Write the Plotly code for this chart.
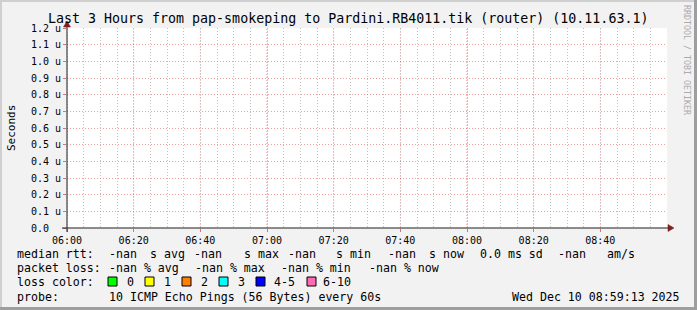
import plotly.graph_objects as go

# ---------------- data ----------------
title_text = "Last 3 Hours from pap-smokeping to Pardini.RB4011.tik (router) (10.11.63.1)"
y_title = "Seconds"
watermark = "RRDTOOL / TOBI OETIKER"

time_start = "2025-12-10 06:00:00"
time_end = "2025-12-10 09:00:00"
x_tick_values = ["2025-12-10 06:00", "2025-12-10 06:20", "2025-12-10 06:40",
                 "2025-12-10 07:00", "2025-12-10 07:20", "2025-12-10 07:40",
                 "2025-12-10 08:00", "2025-12-10 08:20", "2025-12-10 08:40"]
x_tick_labels = ["06:00", "06:20", "06:40", "07:00", "07:20", "07:40",
                 "08:00", "08:20", "08:40"]
hour_marks = ["2025-12-10 06:00", "2025-12-10 07:00", "2025-12-10 08:00"]

y_tick_values = [0.0, 0.1e-6, 0.2e-6, 0.3e-6, 0.4e-6, 0.5e-6, 0.6e-6,
                 0.7e-6, 0.8e-6, 0.9e-6, 1.0e-6, 1.1e-6, 1.2e-6]
y_tick_labels = ["0.0", "0.1 u", "0.2 u", "0.3 u", "0.4 u", "0.5 u", "0.6 u",
                 "0.7 u", "0.8 u", "0.9 u", "1.0 u", "1.1 u", "1.2 u"]

# median RTT samples: every value is missing (-nan) in the reference
sample_times = ["2025-12-10 06:00", "2025-12-10 09:00"]
median_rtt = [None, None]

rtt_line = ["median rtt:", "-nan", "s avg", "-nan", "s max", "-nan", "s min",
            "-nan", "s now", "0.0 ms sd", "-nan", "am/s"]
loss_line = ["packet loss:", "-nan % avg", "-nan % max", "-nan % min", "-nan % now"]
loss_caption = "loss color:"
loss_labels = ["0", "1", "2", "3", "4-5", "6-10"]
loss_colors = ["#00ff00", "#ffff00", "#ff8000", "#00ffff", "#0000ff", "#ff69b4"]
probe_line = ["probe:", "10 ICMP Echo Pings (56 Bytes) every 60s"]
stamp = "Wed Dec 10 08:59:13 2025"

# ---------------- layout (pixels) ----------------
W, H = 697, 310
PL, PR, PT, PB = 67, 667, 28, 228

rtt_x = [16, 108, 149, 193, 243, 287, 335, 387, 428, 479, 557, 606]
loss_x = [16, 108, 194, 280, 368]
box_x = [108, 145, 182, 219, 256, 307]
box_label_x = [126, 163, 200, 237, 273, 322]
probe_x = [16, 108]
row_y = [254, 268, 282, 296.5]

MONO = "DejaVu Sans Mono"
BG = "#f2f2f2"
DOTS = "1px,2px"
MGRID = "rgba(222,79,79,0.55)"
MGRID_SOFT = "rgba(222,79,79,0.40)"
MGRID_H = "rgba(222,79,79,0.75)"
GRID = "rgba(143,143,143,0.55)"


def px(x):
    return (x - PL) / (PR - PL)


def py(y):
    return (PB - y) / (PB - PT)


fig = go.Figure()
fig.add_trace(go.Scatter(x=sample_times, y=median_rtt, mode="lines",
                         line=dict(color="#00ff00", width=1), showlegend=False,
                         hoverinfo="skip"))

annotations = []


def text(x, y, s, size=11.6, xanchor="left", yref="paper", color="#000000",
         angle=0, xref="paper"):
    annotations.append(dict(x=x, y=y, xref=xref, yref=yref, text=s,
                            showarrow=False, xanchor=xanchor, yanchor="middle",
                            textangle=angle, borderpad=0,
                            font=dict(family=MONO, size=size, color=color)))


# title
text(px(348), py(18.5), title_text, size=13.3, xanchor="center")
# y axis title
text(px(11), py(128), y_title, size=11, xanchor="center", angle=-90)
# watermark
text(px(687), py(60), watermark, size=8.3, xanchor="center", angle=90,
     color="#ababab")
# y tick labels
for v, lab in zip(y_tick_values, y_tick_labels):
    text(px(30), v, lab, size=10, yref="y")
# legend rows
for s, x in zip(rtt_line, rtt_x):
    text(px(x), py(row_y[0]), s)
for s, x in zip(loss_line, loss_x):
    text(px(x), py(row_y[1]), s)
text(px(16), py(row_y[2]), loss_caption)
for s, x in zip(loss_labels, box_label_x):
    text(px(x), py(row_y[2]), s)
for s, x in zip(probe_line, probe_x):
    text(px(x), py(row_y[3]), s)
text(px(681), py(row_y[3]), stamp, xanchor="right")

shapes = []
# frame shading
shapes.append(dict(type="rect", xref="paper", yref="paper", x0=px(0), x1=px(697),
                   y0=py(0), y1=py(2), fillcolor="#cfcfcf", line=dict(width=0), layer="below"))
shapes.append(dict(type="rect", xref="paper", yref="paper", x0=px(0), x1=px(2),
                   y0=py(0), y1=py(310), fillcolor="#cfcfcf", line=dict(width=0), layer="below"))
shapes.append(dict(type="rect", xref="paper", yref="paper", x0=px(694), x1=px(697),
                   y0=py(0), y1=py(310), fillcolor="#9e9e9e", line=dict(width=0)))
shapes.append(dict(type="rect", xref="paper", yref="paper", x0=px(0), x1=px(697),
                   y0=py(307), y1=py(310), fillcolor="#9e9e9e", line=dict(width=0)))
# major vertical grid (20 min), hours slightly stronger
for t in x_tick_values:
    col = MGRID_H if t in hour_marks else MGRID_SOFT
    shapes.append(dict(type="line", xref="x", yref="paper", x0=t, x1=t, y0=0, y1=1,
                       line=dict(color=col, width=1, dash=DOTS), layer="above"))
# axes with arrows
shapes.append(dict(type="line", xref="paper", yref="paper", x0=px(62), x1=px(669),
                   y0=py(228), y1=py(228), line=dict(color="#1f1f1f", width=1)))
shapes.append(dict(type="line", xref="paper", yref="paper", x0=px(67), x1=px(67),
                   y0=py(232), y1=py(24), line=dict(color="#1f1f1f", width=1)))
shapes.append(dict(type="path", xref="paper", yref="paper",
                   path=f"M {px(668)} {py(224.5)} L {px(674)} {py(228)} L {px(668)} {py(231.5)} Z",
                   fillcolor="#801f1f", line=dict(color="#801f1f", width=0.5)))
shapes.append(dict(type="path", xref="paper", yref="paper",
                   path=f"M {px(63.5)} {py(27)} L {px(67)} {py(21)} L {px(70.5)} {py(27)} Z",
                   fillcolor="#801f1f", line=dict(color="#801f1f", width=0.5)))
# loss colour swatches
for x, c in zip(box_x, loss_colors):
    shapes.append(dict(type="rect", xref="paper", yref="paper", x0=px(x), x1=px(x + 9),
                       y0=py(277), y1=py(286), fillcolor=c,
                       line=dict(color="#000000", width=1)))

fig.update_layout(
    width=W, height=H,
    margin=dict(l=PL, r=W - PR, t=PT, b=H - PB, pad=0),
    paper_bgcolor=BG, plot_bgcolor="#ffffff",
    showlegend=False, hovermode=False,
    annotations=annotations, shapes=shapes,
    xaxis=dict(type="date", range=[time_start, time_end], tickmode="array",
               tickvals=x_tick_values, ticktext=x_tick_labels,
               tickfont=dict(family=MONO, size=10, color="#000000"),
               showgrid=False,
               ticks="outside", ticklen=3, tickcolor="rgba(222,79,79,0.8)",
               showline=False, zeroline=False, fixedrange=True,
               minor=dict(dtick=5 * 60 * 1000, showgrid=True, gridcolor=GRID,
                          griddash=DOTS, gridwidth=1)),
    yaxis=dict(range=[0, 1.2e-6], tickmode="array", tickvals=y_tick_values,
               showticklabels=False, showgrid=True, gridcolor=MGRID,
               griddash=DOTS, gridwidth=1, ticks="outside", ticklen=3,
               tickcolor="rgba(222,79,79,0.8)", showline=False, zeroline=False,
               fixedrange=True),
)

fig.write_html("out.html", config={"displayModeBar": False})
